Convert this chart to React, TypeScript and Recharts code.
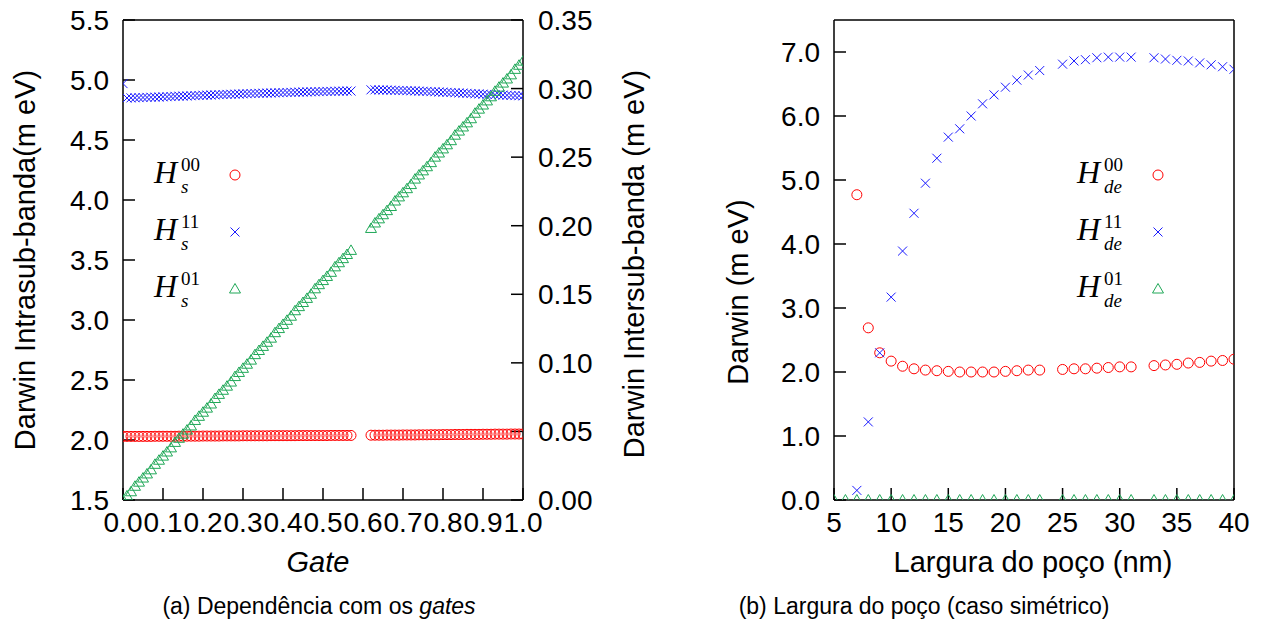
import { ScatterChart, Scatter, XAxis, YAxis } from 'recharts'

// (a) gate sweep
const GATE = [
  0.0, 0.01, 0.02, 0.03, 0.04, 0.05, 0.06, 0.07, 0.08, 0.09,
  0.1, 0.11, 0.12, 0.13, 0.14, 0.15, 0.16, 0.17, 0.18, 0.19,
  0.2, 0.21, 0.22, 0.23, 0.24, 0.25, 0.26, 0.27, 0.28, 0.29,
  0.3, 0.31, 0.32, 0.33, 0.34, 0.35, 0.36, 0.37, 0.38, 0.39,
  0.4, 0.41, 0.42, 0.43, 0.44, 0.45, 0.46, 0.47, 0.48, 0.49,
  0.5, 0.51, 0.52, 0.53, 0.54, 0.55, 0.56, 0.57,
  0.62, 0.63, 0.64, 0.65, 0.66, 0.67, 0.68, 0.69,
  0.7, 0.71, 0.72, 0.73, 0.74, 0.75, 0.76, 0.77, 0.78, 0.79,
  0.8, 0.81, 0.82, 0.83, 0.84, 0.85, 0.86, 0.87, 0.88, 0.89,
  0.9, 0.91, 0.92, 0.93, 0.94, 0.95, 0.96, 0.97, 0.98, 0.99, 1.0,
]

const HS_00 = [
  2.030, 2.030, 2.030, 2.030, 2.030, 2.030, 2.030, 2.030, 2.031, 2.031,
  2.031, 2.031, 2.031, 2.031, 2.032, 2.032, 2.032, 2.032, 2.032, 2.032,
  2.033, 2.033, 2.033, 2.033, 2.033, 2.034, 2.034, 2.034, 2.034, 2.034,
  2.035, 2.035, 2.035, 2.035, 2.035, 2.035, 2.035, 2.036, 2.036, 2.036,
  2.036, 2.036, 2.036, 2.036, 2.037, 2.037, 2.037, 2.037, 2.037, 2.037,
  2.037, 2.037, 2.038, 2.038, 2.038, 2.038, 2.038, 2.038,
  2.040, 2.040, 2.040, 2.040, 2.041, 2.041, 2.041, 2.041,
  2.042, 2.042, 2.042, 2.042, 2.043, 2.043, 2.043, 2.044, 2.044, 2.044,
  2.045, 2.045, 2.045, 2.046, 2.046, 2.046, 2.047, 2.047, 2.047, 2.047,
  2.048, 2.048, 2.048, 2.049, 2.049, 2.049, 2.049, 2.050, 2.050, 2.050, 2.050,
]

const HS_11 = [
  4.970, 4.850, 4.851, 4.852, 4.853, 4.854, 4.855, 4.856, 4.857, 4.858,
  4.860, 4.861, 4.862, 4.864, 4.865, 4.866, 4.867, 4.869, 4.870, 4.871,
  4.873, 4.874, 4.875, 4.876, 4.878, 4.879, 4.880, 4.881, 4.882, 4.883,
  4.885, 4.886, 4.887, 4.888, 4.889, 4.890, 4.891, 4.892, 4.893, 4.894,
  4.895, 4.896, 4.897, 4.898, 4.899, 4.900, 4.901, 4.902, 4.902, 4.903,
  4.904, 4.905, 4.905, 4.906, 4.907, 4.907, 4.908, 4.908,
  4.918, 4.918, 4.917, 4.917, 4.916, 4.915, 4.914, 4.913,
  4.912, 4.911, 4.910, 4.909, 4.907, 4.906, 4.905, 4.903, 4.902, 4.900,
  4.899, 4.897, 4.896, 4.894, 4.892, 4.891, 4.889, 4.887, 4.885, 4.884,
  4.882, 4.880, 4.879, 4.877, 4.876, 4.874, 4.873, 4.871, 4.870, 4.869, 4.868,
]

const HS_01 = [
  0.000, 0.003, 0.006, 0.010, 0.013, 0.016, 0.019, 0.022, 0.026, 0.029,
  0.032, 0.035, 0.038, 0.042, 0.045, 0.048, 0.051, 0.054, 0.058, 0.061,
  0.064, 0.067, 0.070, 0.074, 0.077, 0.080, 0.083, 0.086, 0.090, 0.093,
  0.096, 0.099, 0.102, 0.106, 0.109, 0.112, 0.115, 0.118, 0.122, 0.125,
  0.128, 0.131, 0.134, 0.138, 0.141, 0.144, 0.147, 0.150, 0.154, 0.157,
  0.160, 0.163, 0.166, 0.170, 0.173, 0.176, 0.179, 0.182,
  0.198, 0.202, 0.205, 0.208, 0.211, 0.214, 0.218, 0.221,
  0.224, 0.227, 0.230, 0.234, 0.237, 0.240, 0.243, 0.246, 0.250, 0.253,
  0.256, 0.259, 0.262, 0.266, 0.269, 0.272, 0.275, 0.278, 0.282, 0.285,
  0.288, 0.291, 0.294, 0.298, 0.301, 0.304, 0.307, 0.310, 0.314, 0.317, 0.320,
]

const GATE_TICKS = [0, 0.1, 0.2, 0.3, 0.4, 0.5, 0.6, 0.7, 0.8, 0.9, 1.0]
const INTRA_TICKS = [1.5, 2.0, 2.5, 3.0, 3.5, 4.0, 4.5, 5.0, 5.5]
const INTER_TICKS = [0, 0.05, 0.1, 0.15, 0.2, 0.25, 0.3, 0.35]

// (b) well width, symmetric case
const WIDTH_NM = [
  7, 8, 9, 10, 11, 12, 13, 14, 15, 16, 17, 18, 19, 20, 21, 22, 23,
  25, 26, 27, 28, 29, 30, 31,
  33, 34, 35, 36, 37, 38, 39, 40,
]
const HDE_00 = [
  4.77, 2.69, 2.30, 2.17, 2.09, 2.05, 2.03, 2.02, 2.01, 2.00, 2.00, 2.00, 2.00, 2.01, 2.02, 2.03, 2.03,
  2.04, 2.05, 2.05, 2.06, 2.07, 2.08, 2.08,
  2.10, 2.11, 2.12, 2.14, 2.15, 2.17, 2.18, 2.20,
]
const HDE_11 = [
  0.15, 1.22, 2.30, 3.17, 3.89, 4.48, 4.95, 5.34, 5.67, 5.80, 6.00, 6.19, 6.33, 6.45, 6.56, 6.64, 6.71,
  6.81, 6.86, 6.88, 6.91, 6.92, 6.92, 6.92,
  6.91, 6.89, 6.87, 6.86, 6.83, 6.80, 6.77, 6.73,
]
const WIDTH_NM_01 = [
  5, 6, 7, 8, 9, 10, 11, 12, 13, 14, 15, 16, 17, 18, 19, 20, 21, 22, 23,
  25, 26, 27, 28, 29, 30, 31,
  33, 34, 35, 36, 37, 38, 39, 40,
]
const HDE_01 = [
  0, 0, 0, 0, 0, 0, 0, 0, 0, 0, 0, 0, 0, 0, 0, 0, 0, 0, 0,
  0, 0, 0, 0, 0, 0, 0,
  0, 0, 0, 0, 0, 0, 0, 0,
]

const WIDTH_TICKS = [5, 10, 15, 20, 25, 30, 35, 40]
const DARWIN_TICKS = [0, 1, 2, 3, 4, 5, 6, 7]

const RED = '#ff0000'
const BLUE = '#1a1aff'
const GREEN = '#20a858'

const SANS = '"Liberation Sans", Arial, sans-serif'
const SERIF = '"Liberation Serif", "Times New Roman", serif'
const AX = { stroke: '#000', strokeWidth: 1.5 }
const TICK = { fill: '#000', fontSize: 28, fontFamily: SANS }

const pts = (xs: number[], ys: number[]) => xs.map((x, i) => ({ x, y: ys[i] }))

function Ring({ cx, cy }: { cx: number; cy: number }) {
  return <circle cx={cx} cy={cy} r={5} fill="none" stroke={RED} strokeWidth={1} />
}

function Cross({ cx, cy }: { cx: number; cy: number }) {
  const d = 4.5
  return (
    <path
      d={`M${cx - d},${cy - d}L${cx + d},${cy + d}M${cx - d},${cy + d}L${cx + d},${cy - d}`}
      stroke={BLUE}
      strokeWidth={1}
      fill="none"
    />
  )
}

function Tri({ cx, cy }: { cx: number; cy: number }) {
  return (
    <path
      d={`M${cx - 5.5},${cy + 4}L${cx + 5.5},${cy + 4}L${cx},${cy - 5.5}Z`}
      stroke={GREEN}
      strokeWidth={1}
      fill="none"
    />
  )
}

function GateChart() {
  return (
    <ScatterChart width={640} height={626} margin={{ top: 19, right: 37, bottom: 76, left: 43 }}>
      <XAxis
        xAxisId="b"
        type="number"
        dataKey="x"
        domain={[0, 1]}
        ticks={GATE_TICKS}
        interval={0}
        allowDataOverflow
        tickFormatter={(v: number) => v.toFixed(1)}
        tickSize={-12}
        tickMargin={24}
        height={50}
        axisLine={AX}
        tickLine={AX}
        tick={TICK}
      />
      <XAxis
        xAxisId="t"
        orientation="top"
        type="number"
        domain={[0, 1]}
        ticks={GATE_TICKS}
        interval={0}
        allowDataOverflow
        tick={false}
        tickSize={-12}
        height={1}
        axisLine={AX}
        tickLine={AX}
      />
      <YAxis
        yAxisId="l"
        type="number"
        dataKey="y"
        domain={[1.5, 5.5]}
        ticks={INTRA_TICKS}
        interval={0}
        allowDataOverflow
        tickFormatter={(v: number) => v.toFixed(1)}
        tickSize={-12}
        tickMargin={26}
        width={80}
        axisLine={AX}
        tickLine={AX}
        tick={TICK}
      />
      <YAxis
        yAxisId="r"
        orientation="right"
        type="number"
        dataKey="y"
        domain={[0, 0.35]}
        ticks={INTER_TICKS}
        interval={0}
        allowDataOverflow
        tickFormatter={(v: number) => v.toFixed(2)}
        tickSize={-12}
        tickMargin={27}
        width={80}
        axisLine={AX}
        tickLine={AX}
        tick={TICK}
      />
      <Scatter xAxisId="b" yAxisId="l" data={pts(GATE, HS_00)} shape={(p: any) => <Ring cx={p.cx} cy={p.cy} />} isAnimationActive={false} />
      <Scatter xAxisId="b" yAxisId="l" data={pts(GATE, HS_11)} shape={(p: any) => <Cross cx={p.cx} cy={p.cy} />} isAnimationActive={false} />
      <Scatter xAxisId="b" yAxisId="r" data={pts(GATE, HS_01)} shape={(p: any) => <Tri cx={p.cx} cy={p.cy} />} isAnimationActive={false} />
    </ScatterChart>
  )
}

function WidthChart() {
  return (
    <ScatterChart width={622} height={626} margin={{ top: 19, right: 27, bottom: 76, left: 114 }}>
      <XAxis
        xAxisId="b"
        type="number"
        dataKey="x"
        domain={[5, 40]}
        ticks={WIDTH_TICKS}
        interval={0}
        allowDataOverflow
        tickSize={-12}
        tickMargin={24}
        height={50}
        axisLine={AX}
        tickLine={AX}
        tick={TICK}
      />
      <XAxis
        xAxisId="t"
        orientation="top"
        type="number"
        domain={[5, 40]}
        ticks={WIDTH_TICKS}
        interval={0}
        allowDataOverflow
        tick={false}
        tickSize={-12}
        height={1}
        axisLine={AX}
        tickLine={AX}
      />
      <YAxis
        yAxisId="l"
        type="number"
        dataKey="y"
        domain={[0, 7.5]}
        ticks={DARWIN_TICKS}
        interval={0}
        allowDataOverflow
        tickFormatter={(v: number) => v.toFixed(1)}
        tickSize={-12}
        tickMargin={26}
        width={80}
        axisLine={AX}
        tickLine={AX}
        tick={TICK}
      />
      <YAxis
        yAxisId="m"
        orientation="right"
        type="number"
        domain={[0, 7.5]}
        ticks={DARWIN_TICKS}
        interval={0}
        allowDataOverflow
        tick={false}
        tickSize={-12}
        width={1}
        axisLine={AX}
        tickLine={AX}
      />
      <Scatter xAxisId="b" yAxisId="l" data={pts(WIDTH_NM, HDE_00)} shape={(p: any) => <Ring cx={p.cx} cy={p.cy} />} isAnimationActive={false} />
      <Scatter xAxisId="b" yAxisId="l" data={pts(WIDTH_NM, HDE_11)} shape={(p: any) => <Cross cx={p.cx} cy={p.cy} />} isAnimationActive={false} />
      <Scatter xAxisId="b" yAxisId="l" data={pts(WIDTH_NM_01, HDE_01)} shape={(p: any) => <Tri cx={p.cx} cy={p.cy} />} isAnimationActive={false} />
    </ScatterChart>
  )
}

// H with stacked sub/superscript, e.g. H_s^{00}
function MathKey({ x, y, sub, sup }: { x: number; y: number; sub: string; sup: string }) {
  return (
    <g fontFamily={SERIF} fill="#000">
      <text x={x} y={y} fontSize={32} fontStyle="italic">H</text>
      <text x={x + 27} y={y - 12} fontSize={19}>{sup}</text>
      <text x={x + 27} y={y + 10} fontSize={19} fontStyle="italic">{sub}</text>
    </g>
  )
}

const KEYS = [
  { sup: '00', Mark: Ring },
  { sup: '11', Mark: Cross },
  { sup: '01', Mark: Tri },
]

function Overlay() {
  return (
    <svg width={1262} height={626} style={{ position: 'absolute', left: 0, top: 0, pointerEvents: 'none' }}>
      <g fontFamily={SANS} fill="#000" fontSize={29}>
        <text transform="translate(25,260) rotate(-90)" textAnchor="middle" dominantBaseline="central">
          Darwin Intrasub-banda(m eV)
        </text>
        <text transform="translate(634,264) rotate(-90)" textAnchor="middle" dominantBaseline="central">
          Darwin Intersub-banda (m eV)
        </text>
        <text transform="translate(738,292) rotate(-90)" textAnchor="middle" dominantBaseline="central">
          Darwin (m eV)
        </text>
        <text x={318} y={572} textAnchor="middle" fontStyle="italic">Gate</text>
        <text x={1033} y={572} textAnchor="middle">Largura do poço (nm)</text>
      </g>
      <g fontFamily={SANS} fill="#000" fontSize={23}>
        <text x={319} y={614} textAnchor="middle">
          (a) Dependência com os <tspan fontStyle="italic">gates</tspan>
        </text>
        <text x={924} y={614} textAnchor="middle">(b) Largura do poço (caso simétrico)</text>
      </g>
      {KEYS.map(({ sup, Mark }, i) => (
        <g key={`s${sup}`}>
          <MathKey x={154} y={183 + i * 57} sub="s" sup={sup} />
          <Mark cx={235} cy={175 + i * 57} />
        </g>
      ))}
      {KEYS.map(({ sup, Mark }, i) => (
        <g key={`de${sup}`}>
          <MathKey x={1077} y={183 + i * 57} sub="de" sup={sup} />
          <Mark cx={1158} cy={175 + i * 57} />
        </g>
      ))}
    </svg>
  )
}

export default function App() {
  return (
    <div style={{ position: 'absolute', left: 0, top: 0, width: 1262, height: 626, background: '#fff' }}>
      <div style={{ position: 'absolute', left: 0, top: 0 }}>
        <GateChart />
      </div>
      <div style={{ position: 'absolute', left: 640, top: 0 }}>
        <WidthChart />
      </div>
      <Overlay />
    </div>
  )
}
